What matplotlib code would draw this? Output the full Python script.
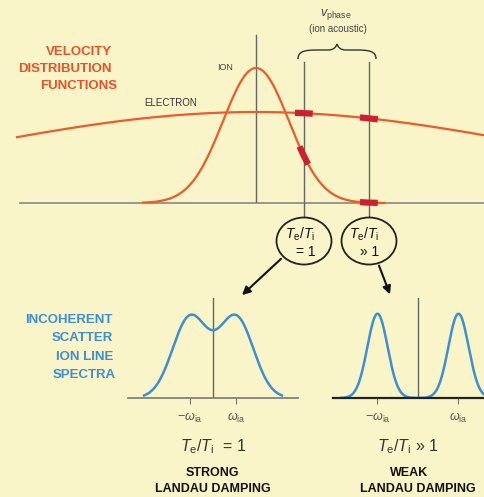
import numpy as np
import matplotlib
matplotlib.use("Agg")
import matplotlib.pyplot as plt
from matplotlib.patches import Ellipse, PathPatch
from matplotlib.path import Path

plt.rcParams['font.family'] = ['Liberation Sans', 'DejaVu Sans']
plt.rcParams['mathtext.fontset'] = 'custom'
plt.rcParams['mathtext.rm'] = 'Liberation Sans'
plt.rcParams['mathtext.it'] = 'Liberation Sans:italic'
plt.rcParams['mathtext.bf'] = 'Liberation Sans:bold'

# --- data (velocity in units of ion thermal speed, frequency in units of omega_ia)
ion_sigma = 1.0
ion_peak = 1.0
elec_sigma = 9.0
elec_peak = 0.674
v_phase = [1.45, 3.42]          # ion acoustic phase velocities for the two cases
ion_range = [-3.42, 3.9]
elec_range = [-7.24, 6.94]

spec_labels = ["$-\\omega_{\\mathrm{ia}}$", "$\\omega_{\\mathrm{ia}}$"]
spec_peaks = [1.0, 1.0]          # line positions (+/- omega_ia)
spec_width = [0.76, 0.25]        # strong vs weak Landau damping
spec_height = [0.97, 0.98]
ratio_text = ["$T_\\mathrm{e}/T_\\mathrm{i}$  = 1", "$T_\\mathrm{e}/T_\\mathrm{i}$ \u00bb 1"]
circle_text = ["= 1", "\u00bb 1"]
damping_text = ["STRONG", "WEAK"]

BG = "#faf5c8"
ORANGE = "#ee5a2a"
RED = "#cc1f2f"
BLUE = "#3d8fd1"
GRAY = "#666666"

W, H = 485, 497
fig = plt.figure(figsize=(W / 100, H / 100), dpi=100)
fig.patch.set_facecolor(BG)


def px_axes(x0, y_top, x1, y_bot):
    ax = fig.add_axes([x0 / W, 1 - y_bot / H, (x1 - x0) / W, (y_bot - y_top) / H])
    ax.patch.set_alpha(0)
    return ax


def maxwell(v, sigma, peak):
    return peak * np.exp(-v ** 2 / (2 * sigma ** 2))


# ---------- top panel: velocity distribution functions
ax = px_axes(20, 30, 485, 203)
ax.set_xlim((20 - 256) / 33, (485 - 256) / 33)
ax.set_ylim(0, 173 / 135)
ax.axis('off')
ax.axhline(0, color="#888888", lw=1.2, clip_on=False)
ax.plot([0, 0], [0, 1.244], color=GRAY, lw=1)
for vp in v_phase:
    ax.plot([vp, vp], [-0.11, 1.044], color=GRAY, lw=1, clip_on=False)

v = np.linspace(ion_range[0], ion_range[1], 400)
ax.plot(v, maxwell(v, ion_sigma, ion_peak), color=ORANGE, lw=1.6, clip_on=False)
v = np.linspace(elec_range[0], elec_range[1], 400)
ax.plot(v, maxwell(v, elec_sigma, elec_peak), color=ORANGE, lw=1.6, clip_on=False)

# marked slopes at the phase velocities
for vp, half in zip(v_phase, [0.13, 0.27]):
    seg = np.linspace(vp - half, vp + half, 20)
    ax.plot(seg, maxwell(seg, ion_sigma, ion_peak), color=RED, lw=4.5,
            solid_capstyle='butt', clip_on=False)
    seg = np.linspace(vp - 0.27, vp + 0.27, 20)
    ax.plot(seg, maxwell(seg, elec_sigma, elec_peak), color=RED, lw=4.5,
            solid_capstyle='butt', clip_on=False)

# ---------- bottom panels: ion line spectra
spec_boxes = [(128, 298, 213, 23), (333, 485, 418, 40.5)]
for i, (x0, x1, xc, scale) in enumerate(spec_boxes):
    sa = px_axes(x0, 298, x1, 398)
    sa.set_xlim((x0 - xc) / scale, (x1 - xc) / scale)
    sa.set_ylim(0, 100 / 86)
    for s in ['top', 'right', 'left']:
        sa.spines[s].set_visible(False)
    sa.spines['bottom'].set_color("#777777" if i == 0 else "#222222")
    sa.spines['bottom'].set_linewidth(1.2 if i == 0 else 1.6)
    sa.set_yticks([])
    sa.set_xticks([-spec_peaks[i], spec_peaks[i]], labels=spec_labels)
    sa.tick_params(axis='x', length=4, width=0.8, color="#777777",
                   labelsize=9, labelcolor="#555555", pad=5)
    sa.plot([0, 0], [0, 100 / 86], color=GRAY, lw=1)
    w = np.linspace((x0 - xc) / scale + 0.7, (x1 - xc) / scale - 0.7, 400)
    if i == 1:
        w = np.linspace((x0 - xc) / scale + 0.2, (x1 - xc) / scale, 400)
    g = (maxwell(w - spec_peaks[i], spec_width[i], 1) +
         maxwell(w + spec_peaks[i], spec_width[i], 1))
    g = g / g.max() * spec_height[i]
    sa.plot(w, g, color=BLUE, lw=1.8)

# ---------- overlay: labels, brace, circles, arrows
ov = px_axes(0, 0, W, H)
ov.set_xlim(0, W)
ov.set_ylim(H, 0)
ov.axis('off')
ov.set_zorder(5)

for txt, x, y in [("VELOCITY", 112, 52), ("DISTRIBUTION", 112, 69), ("FUNCTIONS", 117, 86)]:
    ov.text(x, y, txt, color="#e8512a", fontsize=9.5, fontweight='bold',
            ha='right', va='center')
for txt, x, y in [("INCOHERENT", 113, 320), ("SCATTER", 113, 338),
                  ("ION LINE", 113, 357), ("SPECTRA", 116, 375)]:
    ov.text(x, y, txt, color=BLUE, fontsize=9.5, fontweight='bold',
            ha='right', va='center')

ov.text(225, 67, "ION", fontsize=6.5, color="#444444", ha='center', va='center')
ov.text(171, 103.5, "ELECTRON", fontsize=7, color="#333333", ha='center', va='center')
ov.text(336, 15, "$v_{\\mathrm{phase}}$", fontsize=9, color="#444444", ha='center', va='center')
ov.text(338, 29, "(ion acoustic)", fontsize=7, color="#444444", ha='center', va='center')

brace = Path([(298, 59), (298, 51), (305, 50), (318, 50), (328, 50),
              (334, 50), (336, 47), (337, 44),
              (338, 47), (340, 50), (346, 50), (356, 50),
              (369, 50), (376, 51), (376, 59)],
             [Path.MOVETO, Path.CURVE4, Path.CURVE4, Path.CURVE4, Path.LINETO,
              Path.CURVE4, Path.CURVE4, Path.CURVE4,
              Path.CURVE4, Path.CURVE4, Path.CURVE4, Path.LINETO,
              Path.CURVE4, Path.CURVE4, Path.CURVE4])
ov.add_patch(PathPatch(brace, fill=False, edgecolor="#333333", lw=1))

for i, cx in enumerate([304, 369]):
    ov.add_patch(Ellipse((cx, 241), 55, 47, facecolor=BG, edgecolor="#222222", lw=1.3))
    ov.text(cx - 4 if i == 0 else cx - 5, 234, "$T_\\mathrm{e}/T_\\mathrm{i}$", fontsize=10,
            color="#111111", ha='center', va='center')
    ov.text(cx + 2 if i == 0 else cx + 1, 252, circle_text[i], fontsize=10,
            color="#111111", ha='center', va='center')

ov.annotate("", xy=(240, 297), xytext=(283, 257),
            arrowprops=dict(arrowstyle='-|>', color="#111111", lw=1.5, mutation_scale=12))
ov.annotate("", xy=(391, 297), xytext=(378, 263),
            arrowprops=dict(arrowstyle='-|>', color="#111111", lw=1.5, mutation_scale=12))

for i, (xr, xd, xl) in enumerate([(213, 212, 213), (408, 409, 418)]):
    ov.text(xr, 447, ratio_text[i], fontsize=11.5, color="#333333", ha='center', va='center')
    ov.text(xd, 473, damping_text[i], fontsize=9, fontweight='bold', color="#111111",
            ha='center', va='center')
    ov.text(xl, 489, "LANDAU DAMPING", fontsize=9, fontweight='bold', color="#111111",
            ha='center', va='center')

fig.savefig("out.png", dpi=100, facecolor=BG)
